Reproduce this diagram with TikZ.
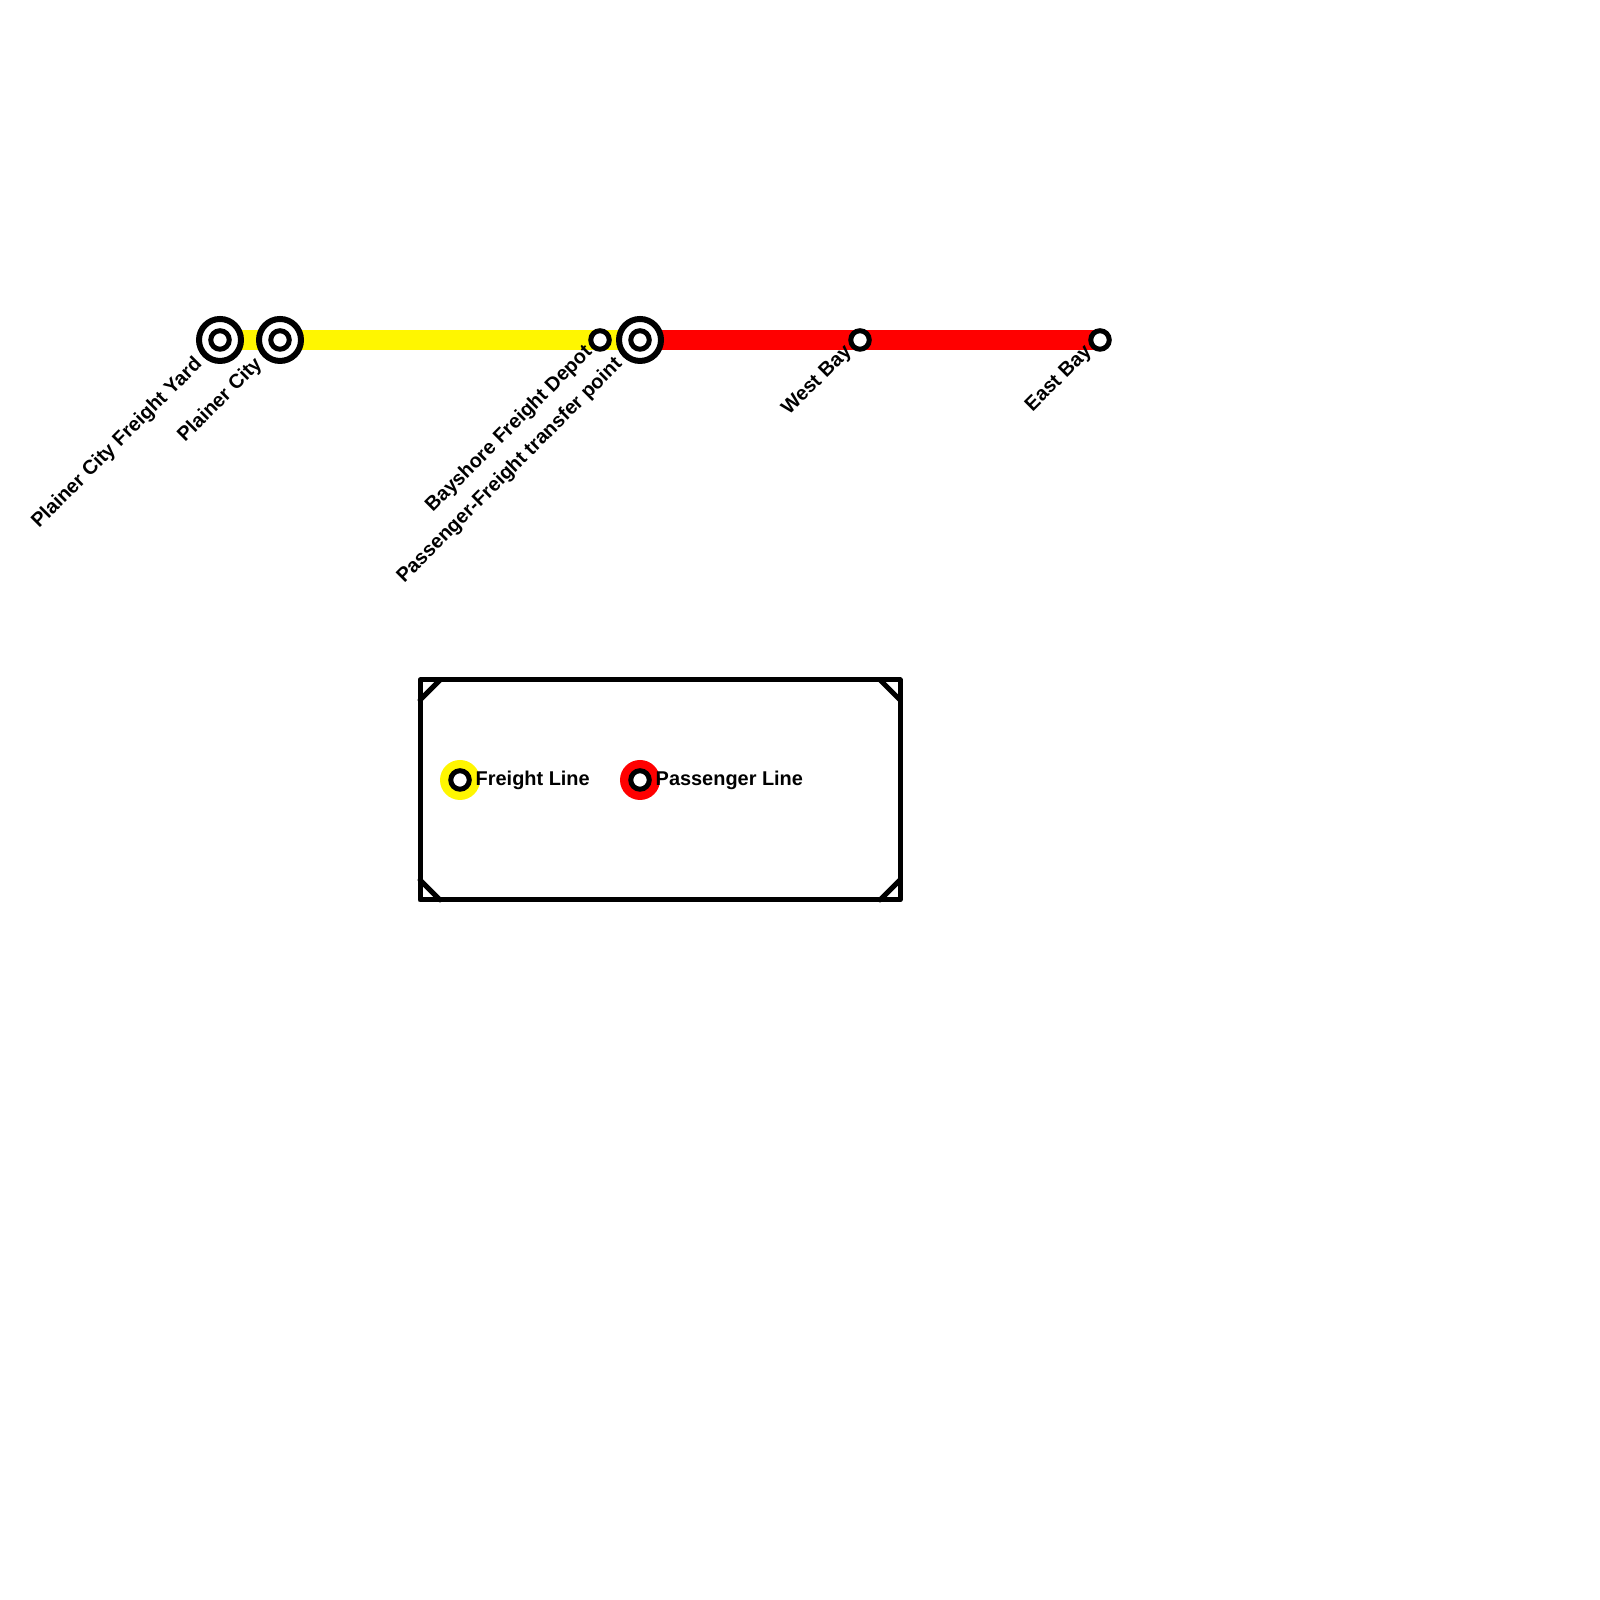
\documentclass[tikz,border=0pt]{standalone}
\usepackage{fontspec}
\setmainfont{Liberation Sans}
\usepackage{xcolor}
\usepackage{tikz}
\usetikzlibrary{calc}
\definecolor{freightyellow}{HTML}{FFF600}
\definecolor{passengerred}{HTML}{FF0000}
\tikzset{
	freightline/.style={line width=0.2cm, freightyellow},
	passengerline/.style={line width=0.2cm, passengerred},
	ringnode/.style={draw, circle, fill=white, inner sep=0pt, line width=0.06cm, minimum size=0.42cm},
	stopnode/.style={draw, circle, fill=white, inner sep=0pt, line width=0.05cm, minimum size=0.185cm},
	keydot/.style={circle, inner sep=0pt, minimum size=0.4cm},
	stationlabel/.style={rotate=45, anchor=north east, inner sep=0pt, font=\fontsize{5.67}{7}\selectfont\bfseries},
	keylabel/.style={anchor=west, inner sep=0pt, font=\fontsize{5.67}{7}\selectfont\bfseries},
	boxline/.style={line width=0.05cm, line join=round},
	cornerline/.style={line width=0.05cm, line cap=round}
}
\begin{document}
\begin{tikzpicture}
		\useasboundingbox (0,0) rectangle (16,16);

		\coordinate (yard) at (2.2,12.6);
		\coordinate (plainer) at (2.8,12.6);
		\coordinate (depot) at (6.0,12.6);
		\coordinate (transfer) at (6.4,12.6);
		\coordinate (westbay) at (8.6,12.6);
		\coordinate (eastbay) at (11.0,12.6);

		\draw[freightline] (yard) -- (plainer);
		\draw[freightline] (plainer) -- (depot);
		\draw[freightline] (depot) -- (transfer);
		\draw[passengerline] (transfer) -- (westbay);
		\draw[passengerline] (westbay) -- (eastbay);

		% stations
		\node[ringnode] (yardring) at (yard) {};
		\node[stopnode] (yardstop) at (yard) {};
		\node[ringnode] (plainerring) at (plainer) {};
		\node[stopnode] (plainerstop) at (plainer) {};
		\node[stopnode] (depotstop) at (depot) {};
		\node[ringnode] (transferring) at (transfer) {};
		\node[stopnode] (transferstop) at (transfer) {};
		\node[stopnode] (westbaystop) at (westbay) {};
		\node[stopnode] (eastbaystop) at (eastbay) {};

		\node[stationlabel] (yardlabel) at (1.925,12.46) {Plainer City Freight Yard};
		\node[stationlabel] (plainerlabel) at (2.525,12.46) {Plainer City};
		\node[stationlabel] (depotlabel) at (5.825,12.58) {Bayshore Freight Depot};
		\node[stationlabel] (transferlabel) at (6.125,12.46) {Passenger-Freight transfer point};
		\node[stationlabel] (westbaylabel) at (8.425,12.58) {West Bay};
		\node[stationlabel] (eastbaylabel) at (10.825,12.58) {East Bay};

		% legend
		\node[draw, boxline, inner sep=0pt, outer sep=0pt, minimum width=4.8cm, minimum height=2.2cm] (legendbox) at (6.6,8.1) {};
		\draw[cornerline] ($(legendbox.north west)+(0,-0.2)$) -- ($(legendbox.north west)+(0.2,0)$);
		\draw[cornerline] ($(legendbox.north east)+(0,-0.2)$) -- ($(legendbox.north east)+(-0.2,0)$);
		\draw[cornerline] ($(legendbox.south west)+(0,0.2)$) -- ($(legendbox.south west)+(0.2,0)$);
		\draw[cornerline] ($(legendbox.south east)+(0,0.2)$) -- ($(legendbox.south east)+(-0.2,0)$);

		\node[keydot, fill=freightyellow] (freightdot) at (4.6,8.2) {};
		\node[stopnode] (freightstop) at (freightdot) {};
		\node[keylabel] (freightlabel) at (4.75,8.2) {Freight Line};
		\node[keydot, fill=passengerred] (passengerdot) at (6.4,8.2) {};
		\node[stopnode] (passengerstop) at (passengerdot) {};
		\node[keylabel] (passengerlabel) at (6.55,8.2) {Passenger Line};
	\end{tikzpicture}
\end{document}
